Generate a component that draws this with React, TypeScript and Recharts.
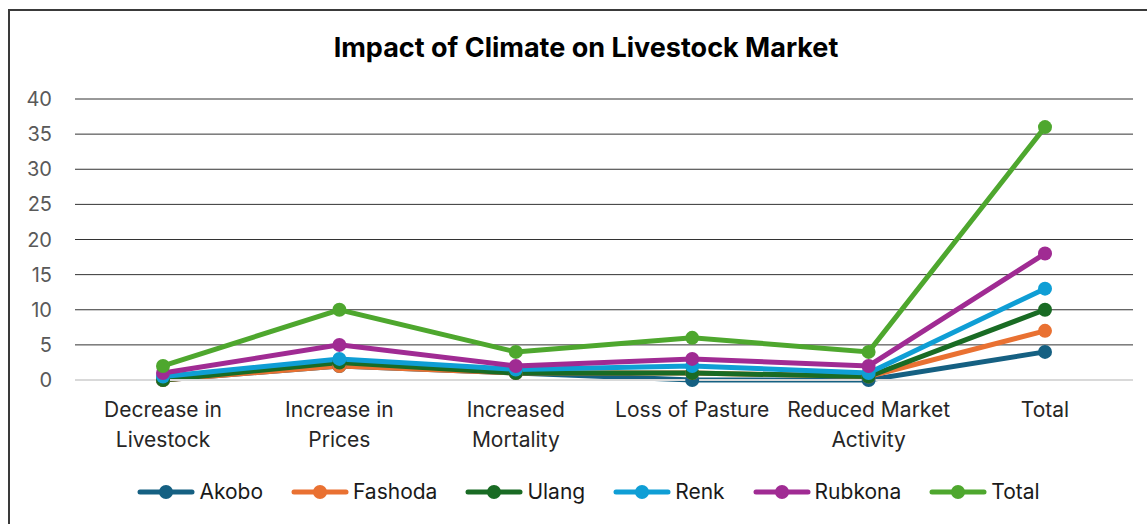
import { LineChart, Line, XAxis, YAxis, CartesianGrid, Legend } from 'recharts';

const categories = [
  'Decrease in Livestock',
  'Increase in Prices',
  'Increased Mortality',
  'Loss of Pasture',
  'Reduced Market Activity',
  'Total',
];
const akobo = [0, 2, 1, 0, 0, 4];
const fashoda = [0, 2, 1, 1, 0.5, 7];
const ulang = [0, 2.5, 1, 1, 0.5, 10];
const renk = [0.5, 3, 1.5, 2, 1, 13];
const rubkona = [1, 5, 2, 3, 2, 18];
const total = [2, 10, 4, 6, 4, 36];
const yTicks = [0, 5, 10, 15, 20, 25, 30, 35, 40];

const SERIES = [
  { key: 'Akobo', values: akobo, color: '#156082' },
  { key: 'Fashoda', values: fashoda, color: '#E97132' },
  { key: 'Ulang', values: ulang, color: '#196B24' },
  { key: 'Renk', values: renk, color: '#0F9ED5' },
  { key: 'Rubkona', values: rubkona, color: '#A02B93' },
  { key: 'Total', values: total, color: '#4EA72E' },
];

const data = categories.map((name, i) => {
  const row: Record<string, string | number> = { name };
  SERIES.forEach((s) => { row[s.key] = s.values[i]; });
  return row;
});

const FONT = 'Inter, "Open Sans", sans-serif';

// greedy word wrap, ~15 chars per line
function wrap(label: string, max = 15) {
  const lines: string[] = [];
  let cur = '';
  label.split(' ').forEach((w) => {
    const next = cur ? cur + ' ' + w : w;
    if (next.length > max && cur) {
      lines.push(cur);
      cur = w;
    } else {
      cur = next;
    }
  });
  if (cur) lines.push(cur);
  return lines;
}

function CategoryTick({ x, y, payload }: any) {
  return (
    <text x={x} y={y} textAnchor="middle" fontSize={21} fontFamily={FONT} fill="#262626">
      {wrap(String(payload.value)).map((line, i) => (
        <tspan key={i} x={x} dy={i === 0 ? 18 : 30}>{line}</tspan>
      ))}
    </text>
  );
}

function LegendContent() {
  return (
    <div style={{ display: 'flex', justifyContent: 'center', gap: 28, fontFamily: FONT, fontSize: 21, color: '#1a1a1a', paddingLeft: 30 }}>
      {SERIES.map((s) => (
        <div key={s.key} style={{ display: 'flex', alignItems: 'center', gap: 4 }}>
          <svg width={58} height={16}>
            <line x1={3} y1={8} x2={55} y2={8} stroke={s.color} strokeWidth={5} strokeLinecap="round" />
            <circle cx={29} cy={8} r={7} fill={s.color} />
          </svg>
          <span>{s.key}</span>
        </div>
      ))}
    </div>
  );
}

export default function App() {
  return (
    <div style={{ position: 'fixed', left: 0, top: 0, width: 1147, height: 524, overflow: 'hidden', background: '#fff' }}>
      <div style={{ position: 'absolute', left: 8, top: 9, width: 1300, height: 700, border: '2px solid #3a3a3a' }} />
      <div style={{ position: 'absolute', left: 0, top: 31, width: 1172, textAlign: 'center', fontFamily: FONT, fontWeight: 700, fontSize: 27, color: '#000' }}>
        Impact of Climate on Livestock Market
      </div>
      <div style={{ position: 'absolute', left: 0, top: 0 }}>
        <LineChart width={1147} height={524} data={data} margin={{ top: 99, right: 14, left: 0, bottom: 49 }}>
          <CartesianGrid vertical={false} horizontalValues={yTicks.slice(1)} stroke="#333" strokeWidth={1} />
          <XAxis
            dataKey="name"
            interval={0}
            padding={{ left: 88, right: 88 }}
            axisLine={{ stroke: '#d9d9d9', strokeWidth: 2 }}
            tickLine={false}
            tickSize={0}
            tickMargin={19}
            height={70}
            tick={<CategoryTick />}
          />
          <YAxis
            width={75}
            domain={[0, 40]}
            ticks={yTicks}
            axisLine={false}
            tickLine={false}
            tickSize={0}
            tickMargin={23}
            tick={{ fontSize: 20, fill: '#595959', fontFamily: FONT }}
          />
          <Legend content={<LegendContent />} wrapperStyle={{ top: 479, left: 0, width: 1147 }} />
          {SERIES.map((s) => (
            <Line
              key={s.key}
              dataKey={s.key}
              stroke={s.color}
              strokeWidth={5}
              dot={{ r: 7, fill: s.color, stroke: s.color, strokeWidth: 0 }}
              activeDot={false}
              isAnimationActive={false}
            />
          ))}
        </LineChart>
      </div>
    </div>
  );
}
